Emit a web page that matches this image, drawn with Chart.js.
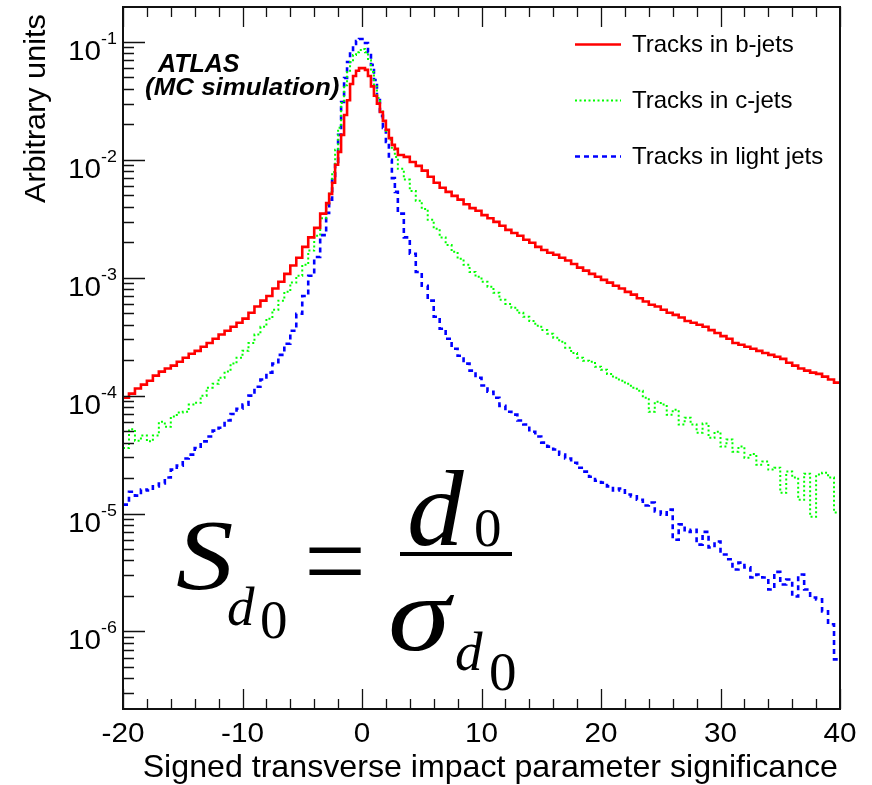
<!DOCTYPE html>
<html><head><meta charset="utf-8">
<script src="https://cdn.jsdelivr.net/npm/chart.js@4/dist/chart.umd.min.js"></script>
<style>html,body{margin:0;padding:0;background:#fff}#wrap{width:872px;height:785px}</style>
</head><body><div id="wrap"><canvas id="c" width="872" height="785"></canvas></div>
<script>
// Histogram binning: 0.5-wide bins in the tails, 0.25-wide bins around the peak
const binSegments = [
  { from: -20, to: -3, width: 0.5 },
  { from: -3, to: 3, width: 0.25 },
  { from: 3, to: 40, width: 0.5 }
];

// Tracks in b-jets (one value per bin)
const bJets = [
9.6e-5, 1.04e-4, 1.15e-4, 1.24e-4, 1.34e-4, 1.48e-4, 1.6e-4, 1.7e-4, 1.8e-4, 1.94e-4,
2.1e-4, 2.27e-4, 2.4e-4, 2.6e-4, 2.8e-4, 3.04e-4, 3.3e-4, 3.55e-4, 3.84e-4, 4.15e-4,
4.5e-4, 5.05e-4, 5.7e-4, 6.4e-4, 7.0e-4, 8.1e-4, 9.25e-4, 1.08e-3, 1.27e-3, 1.48e-3,
1.83e-3, 2.2e-3, 2.65e-3, 3.5e-3,
4.3e-3, 5.15e-3, 6.4e-3, 9.1e-3, 1.17e-2, 1.63e-2, 2.4e-2, 3.2e-2, 4.4e-2, 5.15e-2, 5.7e-2, 6.0e-2,
6.0e-2, 5.8e-2, 5.15e-2, 4.2e-2, 3.5e-2, 3.0e-2, 2.55e-2, 2.14e-2, 1.8e-2, 1.53e-2, 1.34e-2, 1.24e-2,
1.1e-2, 1.06e-2, 9.6e-3, 8.9e-3,
8.1e-3, 7.2e-3, 6.4e-3, 5.8e-3, 5.35e-3, 4.95e-3, 4.6e-3, 4.2e-3, 3.9e-3, 3.7e-3,
3.4e-3, 3.2e-3, 2.98e-3, 2.76e-3, 2.55e-3, 2.4e-3, 2.27e-3, 2.1e-3, 1.98e-3, 1.83e-3,
1.72e-3, 1.63e-3, 1.57e-3, 1.48e-3, 1.4e-3, 1.31e-3, 1.22e-3, 1.15e-3, 1.08e-3, 1.02e-3,
9.6e-4, 9.1e-4, 8.55e-4, 8.1e-4, 7.6e-4, 7.2e-4, 6.7e-4, 6.3e-4, 5.9e-4, 5.7e-4,
5.35e-4, 5.05e-4, 4.85e-4, 4.6e-4, 4.3e-4, 4.15e-4, 4.0e-4, 3.84e-4, 3.6e-4, 3.4e-4,
3.2e-4, 3.04e-4, 2.8e-4, 2.7e-4, 2.6e-4, 2.5e-4, 2.4e-4, 2.3e-4, 2.22e-4, 2.14e-4,
2.05e-4, 1.9e-4, 1.8e-4, 1.7e-4, 1.63e-4, 1.57e-4, 1.53e-4, 1.45e-4, 1.37e-4, 1.29e-4
];

// Tracks in c-jets
const cJets = [
3.6e-5, 5.2e-5, 4.15e-5, 4.6e-5, 4.1e-5, 4.6e-5, 6.0e-5, 5.45e-5, 6.65e-5, 7.2e-5,
7.3e-5, 8.4e-5, 8.7e-5, 1.0e-4, 1.17e-4, 1.26e-4, 1.42e-4, 1.6e-4, 1.87e-4, 2.1e-4,
2.4e-4, 2.8e-4, 3.3e-4, 3.84e-4, 4.5e-4, 5.35e-4, 6.4e-4, 7.6e-4, 9.1e-4, 1.04e-3,
1.29e-3, 1.7e-3, 2.27e-3, 3.2e-3,
4.15e-3, 5.35e-3, 7.9e-3, 1.22e-2, 1.87e-2, 3.04e-2, 4.3e-2, 5.57e-2, 6.77e-2, 7.75e-2, 8.2e-2, 8.55e-2,
8.7e-2, 8.2e-2, 7.0e-2, 5.57e-2, 4.2e-2, 3.35e-2, 2.65e-2, 2.14e-2, 1.76e-2, 1.48e-2, 1.22e-2, 1.06e-2,
8.4e-3, 6.8e-3, 5.45e-3, 4.5e-3,
3.84e-3, 3.1e-3, 2.6e-3, 2.2e-3, 1.9e-3, 1.66e-3, 1.45e-3, 1.29e-3, 1.12e-3, 1.02e-3,
9.25e-4, 8.4e-4, 7.45e-4, 6.5e-4, 6.0e-4, 5.57e-4, 5.05e-4, 4.67e-4, 4.3e-4, 3.92e-4,
3.6e-4, 3.35e-4, 3.1e-4, 2.87e-4, 2.55e-4, 2.3e-4, 2.1e-4, 1.98e-4, 1.94e-4, 1.76e-4,
1.66e-4, 1.53e-4, 1.42e-4, 1.34e-4, 1.26e-4, 1.17e-4, 1.1e-4, 9.6e-5, 7.3e-5, 8.9e-5,
8.4e-5, 6.9e-5, 7.6e-5, 5.7e-5, 6.5e-5, 5.7e-5, 4.85e-5, 5.8e-5, 4.4e-5, 4.95e-5,
3.7e-5, 4.25e-5, 3.35e-5, 3.7e-5, 2.98e-5, 3.2e-5, 2.6e-5, 2.76e-5, 2.36e-5, 2.45e-5,
1.5e-5, 2.27e-5, 2.02e-5, 1.31e-5, 2.18e-5, 9.4e-6, 2.14e-5, 2.22e-5, 2.02e-5, 1.02e-5
];

// Tracks in light jets
const lightJets = [
1.19e-5, 1.53e-5, 1.42e-5, 1.6e-5, 1.57e-5, 1.7e-5, 1.8e-5, 2.02e-5, 2.36e-5, 2.55e-5,
2.93e-5, 3.16e-5, 3.6e-5, 4.1e-5, 4.5e-5, 5.05e-5, 5.35e-5, 6.15e-5, 7.0e-5, 7.75e-5,
8.4e-5, 1.0e-4, 1.19e-4, 1.37e-4, 1.57e-4, 1.87e-4, 2.22e-4, 2.76e-4, 3.55e-4, 4.95e-4,
7.0e-4, 1.04e-3, 1.5e-3, 2.3e-3,
3.55e-3, 4.6e-3, 6.77e-3, 9.6e-3, 1.63e-2, 3.1e-2, 4.95e-2, 6.77e-2, 8.55e-2, 9.6e-2, 1.02e-1, 1.06e-1,
1.06e-1, 9.8e-2, 8.2e-2, 6.4e-2, 4.76e-2, 3.35e-2, 2.36e-2, 1.87e-2, 1.42e-2, 1.0e-2, 7.0e-3, 5.35e-3,
3.5e-3, 2.2e-3, 1.6e-3, 1.12e-3,
8.55e-4, 6.4e-4, 4.67e-4, 3.7e-4, 3.04e-4, 2.5e-4, 2.18e-4, 1.87e-4, 1.63e-4, 1.42e-4,
1.22e-4, 1.08e-4, 9.6e-5, 8.2e-5, 7.3e-5, 6.9e-5, 6.15e-5, 5.7e-5, 4.95e-5, 4.5e-5,
4.0e-5, 3.7e-5, 3.5e-5, 3.16e-5, 2.93e-5, 2.7e-5, 2.45e-5, 2.27e-5, 2.05e-5, 1.9e-5,
1.83e-5, 1.7e-5, 1.57e-5, 1.63e-5, 1.45e-5, 1.4e-5, 1.31e-5, 1.17e-5, 1.24e-5, 1.04e-5,
9.8e-6, 1.08e-5, 6.0e-6, 8.1e-6, 7.0e-6, 7.3e-6, 5.45e-6, 7.0e-6, 5.15e-6, 5.8e-6,
4.5e-6, 4.1e-6, 3.35e-6, 3.84e-6, 3.5e-6, 2.87e-6, 3.04e-6, 2.87e-6, 2.27e-6, 3.2e-6,
2.5e-6, 2.76e-6, 1.98e-6, 3.04e-6, 2.27e-6, 1.94e-6, 1.87e-6, 1.48e-6, 1.15e-6, 5.8e-7
];

const seriesLabels = ['Tracks in b-jets', 'Tracks in c-jets', 'Tracks in light jets'];
const xTickLabels = [-20, -10, 0, 10, 20, 30, 40];
const yTickExponents = [-6, -5, -4, -3, -2, -1];
const xTitle = 'Signed transverse impact parameter significance';
const yTitle = 'Arbitrary units';
const atlasLines = ['ATLAS', '(MC simulation)'];

const X_MIN = -20, X_MAX = 40, Y_MIN = 2.2e-7, Y_MAX = 0.198;

// bin edges from the segment description
const binEdges = [];
binSegments.forEach((s, k) => {
  const n = Math.round((s.to - s.from) / s.width);
  for (let i = 0; i < n; i++) binEdges.push(s.from + i * s.width);
  if (k === binSegments.length - 1) binEdges.push(s.to);
});

function toSteps(vals) {
  const pts = vals.map((v, i) => ({ x: binEdges[i], y: v }));
  pts.push({ x: binEdges[vals.length], y: vals[vals.length - 1] });
  return pts;
}

const SANS = '"Liberation Sans", Arial, Helvetica, sans-serif';
const SERIF = '"Liberation Serif", "Times New Roman", serif';

function txt(ctx, s, x, y, o) {
  ctx.save();
  ctx.font = `${o.style || 'normal'} ${o.weight || 'normal'} ${o.size}px ${o.family || SANS}`;
  ctx.fillStyle = o.color || '#000';
  ctx.textAlign = o.align || 'left';
  ctx.textBaseline = o.baseline || 'alphabetic';
  ctx.translate(x, y);
  if (o.rot) ctx.rotate(o.rot);
  ctx.scale(o.sx || 1, 1);
  ctx.fillText(s, 0, 0);
  ctx.restore();
}

const decor = {
  id: 'decor',
  beforeDraw(chart) {
    const ctx = chart.ctx;
    ctx.save();
    ctx.fillStyle = '#fff';
    ctx.fillRect(0, 0, chart.width, chart.height);
    ctx.restore();
  },
  afterDraw(chart) {
    const ctx = chart.ctx, a = chart.chartArea;
    const xs = chart.scales.x, ys = chart.scales.y;
    ctx.save();
    ctx.strokeStyle = '#111';
    ctx.lineWidth = 2;
    ctx.strokeRect(a.left, a.top, a.right - a.left, a.bottom - a.top);
    ctx.lineWidth = 1.3;
    ctx.beginPath();
    for (let v = X_MIN; v <= X_MAX; v += 2) {
      const px = Math.round(xs.getPixelForValue(v)) + 0.5;
      const len = (v % 10 === 0) ? 20 : 10;
      ctx.moveTo(px, a.bottom); ctx.lineTo(px, a.bottom - len);
      ctx.moveTo(px, a.top); ctx.lineTo(px, a.top + len);
    }
    for (let e = -7; e <= -1; e++) {
      for (let m = 1; m <= 9; m++) {
        const v = m * Math.pow(10, e);
        if (v < Y_MIN || v > Y_MAX) continue;
        const py = Math.round(ys.getPixelForValue(v)) + 0.5;
        const len = m === 1 ? 22 : 11;
        ctx.moveTo(a.left, py); ctx.lineTo(a.left + len, py);
      }
    }
    ctx.stroke();
    ctx.restore();

    xTickLabels.forEach(v => {
      txt(ctx, String(v), xs.getPixelForValue(v), 742, { size: 27, align: 'center', sx: 1.1 });
    });
    yTickExponents.forEach(e => {
      const py = ys.getPixelForValue(Math.pow(10, e));
      txt(ctx, '10', 101, py + 18, { size: 27, align: 'right', sx: 1.1 });
      txt(ctx, String(e), 101, py + 2, { size: 17, align: 'left', sx: 1.05 });
    });
    txt(ctx, xTitle, 838, 777, { size: 32, align: 'right', sx: 1.005 });
    txt(ctx, yTitle, 45, 203, { size: 30, align: 'left', rot: -Math.PI / 2, sx: 1.02 });

    const rows = [44, 100, 156];
    chart.data.datasets.forEach((ds, i) => {
      const ly = rows[i];
      ctx.save();
      ctx.strokeStyle = ds.borderColor;
      ctx.lineWidth = ds.borderWidth;
      ctx.setLineDash(ds.borderDash || []);
      ctx.beginPath();
      ctx.moveTo(575, ly + 0.5); ctx.lineTo(621, ly + 0.5);
      ctx.stroke();
      ctx.restore();
      txt(ctx, ds.label, 632, ly + 8, { size: 24 });
    });

    txt(ctx, atlasLines[0], 158, 72, { size: 25, weight: 'bold', style: 'italic' });
    txt(ctx, atlasLines[1], 145, 95, { size: 24, weight: 'bold', style: 'italic', sx: 1.08 });

    // formula S_{d0} = d0 / sigma_{d0}
    txt(ctx, 'S', 176, 588, { size: 100, style: 'italic', family: SERIF, sx: 1.15 });
    txt(ctx, 'd', 227, 625, { size: 55, style: 'italic', family: SERIF });
    txt(ctx, '0', 260, 638, { size: 55, family: SERIF });
    txt(ctx, '=', 335, 598, { size: 110, align: 'center', family: SERIF });
    txt(ctx, 'd', 407, 545, { size: 108, style: 'italic', family: SERIF, sx: 1.05 });
    txt(ctx, '0', 474, 546, { size: 55, family: SERIF });
    ctx.save(); ctx.fillStyle = '#000'; ctx.fillRect(400, 552, 112, 4); ctx.restore();
    txt(ctx, 'σ', 388, 650, { size: 105, style: 'italic', family: SERIF, sx: 1.2 });
    txt(ctx, 'd', 455, 670, { size: 55, style: 'italic', family: SERIF });
    txt(ctx, '0', 489, 690, { size: 55, family: SERIF });
  }
};

new Chart(document.getElementById('c'), {
  type: 'line',
  data: {
    datasets: [
      { label: seriesLabels[0], data: toSteps(bJets), borderColor: '#ff0000', borderWidth: 2.6, stepped: 'before', pointRadius: 0, fill: false },
      { label: seriesLabels[1], data: toSteps(cJets), borderColor: '#00ff00', borderWidth: 2, borderDash: [2, 2.5], stepped: 'before', pointRadius: 0, fill: false },
      { label: seriesLabels[2], data: toSteps(lightJets), borderColor: '#0000ff', borderWidth: 2.6, borderDash: [5, 4], stepped: 'before', pointRadius: 0, fill: false }
    ]
  },
  options: {
    responsive: false,
    animation: false,
    devicePixelRatio: 1,
    layout: { padding: { left: 123, right: 32, top: 7, bottom: 76 } },
    plugins: { legend: { display: false }, tooltip: { enabled: false } },
    scales: {
      x: { type: 'linear', min: X_MIN, max: X_MAX, display: false },
      y: { type: 'logarithmic', min: Y_MIN, max: Y_MAX, display: false }
    }
  },
  plugins: [decor]
});
</script>
</body></html>
